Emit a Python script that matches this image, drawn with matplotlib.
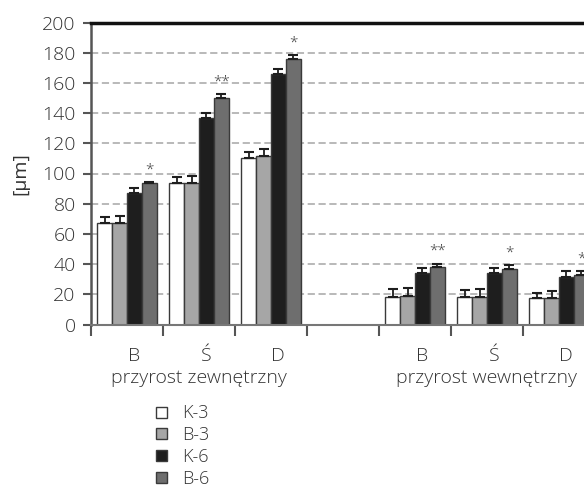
import matplotlib
matplotlib.use("Agg")
import matplotlib.pyplot as plt
from matplotlib.patches import Rectangle
from matplotlib.transforms import blended_transform_factory
import numpy as np

plt.rcParams['font.family'] = ['Open Sans', 'DejaVu Sans']
plt.rcParams['font.weight'] = 'light'

# data
categories = ['B', 'Ś', 'D']
groups = ['przyrost zewnętrzny', 'przyrost wewnętrzny']
series = ['K-3', 'B-3', 'K-6', 'B-6']
colors = ['#ffffff', '#a6a6a6', '#1e1e1e', '#6e6e6e']

# values per series: zewnetrzny B, S, D then wewnetrzny B, S, D
k3 = [67, 93.5, 110.5, 18.5, 18.5, 17.5]
b3 = [67, 93.5, 111.5, 19, 18.5, 17.5]
k6 = [87, 137, 166, 34, 34, 31.5]
b6 = [93.5, 150, 176, 38, 36.5, 33]

k3_err = [4, 4, 3.5, 5, 4.2, 3.5]
b3_err = [5, 5, 4.5, 5, 5, 4.4]
k6_err = [3.5, 3, 3, 3.5, 3.3, 4]
b6_err = [1, 2.5, 2.5, 2.3, 2.8, 2.2]

signif = ['*', '**', '*', '**', '*', '*']

yticks = list(range(0, 201, 20))

TEXT = '#333333'
W, H = 584, 487

fig = plt.figure(figsize=(W / 100, H / 100), dpi=100)
ax = fig.add_axes([91 / W, 162.5 / H, 504 / W, 302 / H])

# slot positions: 3 categories, empty slot, 3 categories
slots = np.array([0, 1, 2, 4, 5, 6])
width = 0.208
vals = [k3, b3, k6, b6]
errs = [k3_err, b3_err, k6_err, b6_err]

ax.set_axisbelow(True)
for i, (v, e, c) in enumerate(zip(vals, errs, colors)):
    x = slots + (i - 1.5) * width
    ax.bar(x, v, width, color=c, edgecolor='#3a3a3a', linewidth=1.0, zorder=2)
    ax.errorbar(x, v, yerr=[np.zeros(len(e)), e], fmt='none', ecolor='#1e1e1e',
                elinewidth=1.3, capsize=3.5, capthick=1.5, zorder=3)

# significance marks above B-6
for s, v, e, txt in zip(slots, b6, b6_err, signif):
    ax.text(s + 1.5 * width, v + e + 3, txt, ha='center', va='bottom',
            fontsize=11, color='#444444', zorder=4)

ax.set_xlim(-0.5, 6.5)
ax.set_ylim(0, 200)
ax.set_yticks(yticks)
ax.yaxis.grid(True, color='#b3b3b3', linestyle=(0, (4, 2)), linewidth=1.3)

ax.spines['right'].set_visible(False)
ax.spines['top'].set_color('#111111')
ax.spines['top'].set_linewidth(2.5)
ax.spines['left'].set_color('#555555')
ax.spines['left'].set_linewidth(1.8)
ax.spines['bottom'].set_color('#777777')
ax.spines['bottom'].set_linewidth(1.5)

ax.tick_params(axis='y', length=6, width=1.5, color='#555555', pad=5,
               labelsize=14, labelcolor=TEXT)

# category labels and slot boundary ticks
ax.set_xticks(slots + 0.1)
ax.set_xticklabels(categories * 2)
ax.set_xticks(np.arange(-0.5, 6.0, 1.0), minor=True)
ax.tick_params(axis='x', which='major', length=0, pad=16, labelsize=14,
               labelcolor=TEXT)
ax.tick_params(axis='x', which='minor', length=8, width=1.5, color='#555555')

trans = blended_transform_factory(ax.transData, fig.transFigure)
for g, name in enumerate(groups):
    ax.text(slots[g * 3 + 1], (H - 378) / H, name, transform=trans,
            ha='center', va='center', fontsize=14, color=TEXT)

ax.set_ylabel('[µm]', fontsize=14, color=TEXT, labelpad=9)

# legend drawn by hand, one row every ~22 px
for i, (name, c) in enumerate(zip(series, colors)):
    yc = 412 + 21.8 * i
    fig.patches.append(Rectangle((156 / W, (H - yc - 5.5) / H), 11 / W, 11 / H,
                                 transform=fig.transFigure, facecolor=c,
                                 edgecolor='#3a3a3a', linewidth=1.0))
    fig.text(182 / W, (H - yc - 6.3) / H, name, ha='left', va='baseline',
             fontsize=13, color=TEXT)

plt.savefig('out.png', dpi=100)
